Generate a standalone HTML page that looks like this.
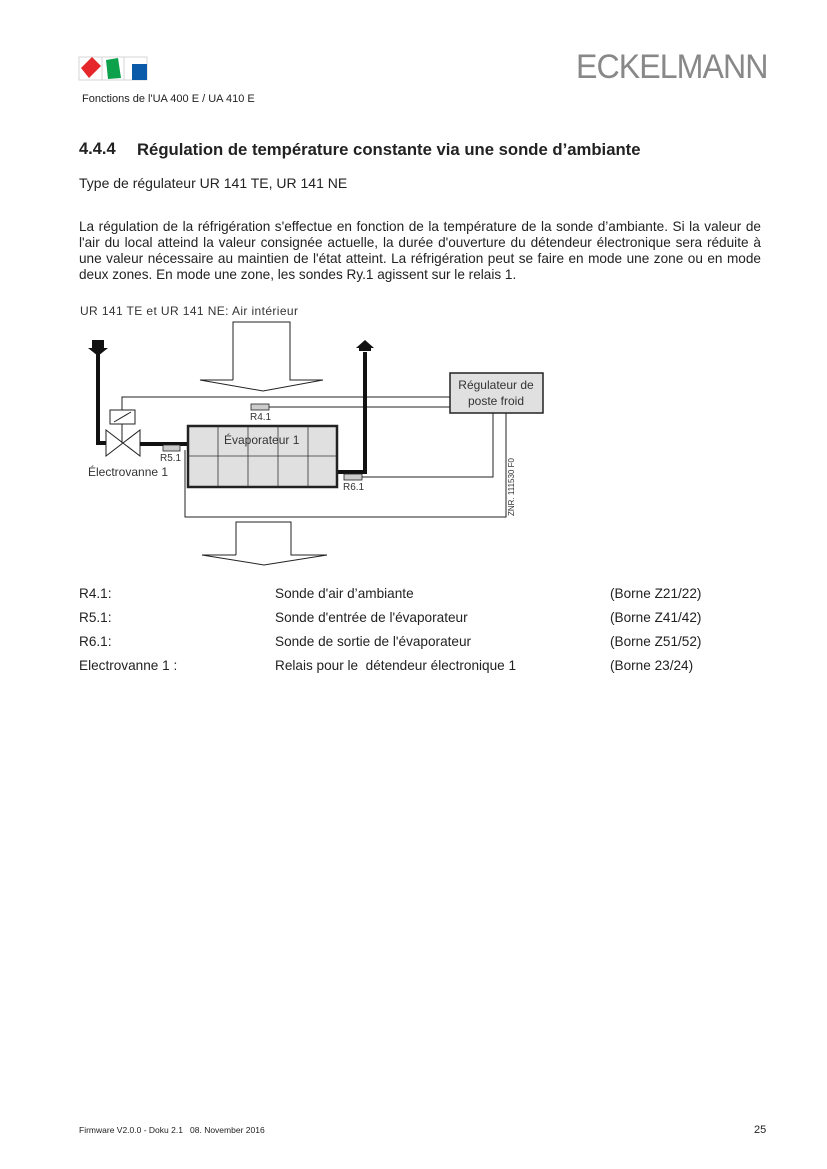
<!DOCTYPE html>
<html><head><meta charset="utf-8"><style>
body{margin:0;background:#fff;}
.p{position:relative;width:827px;height:1169px;overflow:hidden;font-family:"Liberation Sans",Arial,sans-serif;color:#222;}
.a{position:absolute;white-space:nowrap;}
.t{font-size:13.6px;}
.j{position:absolute;left:79px;width:682px;font-size:13.6px;text-align:justify;text-align-last:justify;white-space:nowrap;}
</style></head><body><div class="p">
<svg class="a" style="left:0;top:0" width="827" height="1169">
<rect x="79" y="57" width="68" height="23" fill="none" stroke="#ccc" stroke-width="0.8"/>
<line x1="102" y1="57" x2="102" y2="80" stroke="#ccc" stroke-width="0.8"/>
<line x1="124" y1="57" x2="124" y2="80" stroke="#ccc" stroke-width="0.8"/>
<polygon points="81,68 92,57 101,66 89,78" fill="#e5262a"/>
<polygon points="106,60 118,58 121,78 108,79" fill="#0da14b"/>
<rect x="132" y="64" width="15" height="16" fill="#0b5aaa"/>
<g fill="none" stroke="#222" stroke-width="1">
<polyline points="233,380 233,322 290,322 290,380 323,380 263,391 200,380 233,380"/>
<polyline points="236,555 236,522 291,522 291,555 327,555 264,565 202,555 236,555"/>
<polyline points="122,410 122,397 450,397"/>
<rect x="110" y="410" width="25" height="14"/>
<line x1="114" y1="422" x2="131" y2="412"/>
<polygon points="106,430 106,456 140,430 140,456"/>
<line x1="122" y1="424" x2="122" y2="443"/>
<line x1="269" y1="407" x2="450" y2="407"/>
<polyline points="362,477 493,477 493,413"/>
<polyline points="185,450 185,517 506,517 506,413"/>
</g>
<g fill="none" stroke="#111" stroke-width="4">
<polyline points="98,352 98,443 106,443"/>
<line x1="140" y1="444" x2="188" y2="444"/>
<polyline points="337,472 365,472 365,352"/>
</g>
<polygon points="92,340 104,340 104,348 108,348 98,356 88,348 92,348" fill="#111"/>
<polygon points="371,351 359,351 359,348 356,348 365,340 374,348 371,348" fill="#111"/>
<rect x="188" y="426" width="149" height="61" fill="#e0e0e0" stroke="#222" stroke-width="2.5"/>
<g stroke="#333" stroke-width="0.8">
<line x1="218" y1="426" x2="218" y2="487"/><line x1="248" y1="426" x2="248" y2="487"/>
<line x1="278" y1="426" x2="278" y2="487"/><line x1="308" y1="426" x2="308" y2="487"/>
<line x1="188" y1="456" x2="337" y2="456"/></g>
<rect x="450" y="373" width="93" height="40" fill="#e0e0e0" stroke="#222" stroke-width="1.5"/>
<g fill="#ccc" stroke="#222" stroke-width="0.8">
<rect x="251" y="404" width="18" height="6"/><rect x="163" y="445" width="17" height="6"/><rect x="344" y="474" width="18" height="6"/></g>
<g font-family="Liberation Sans,Arial,sans-serif" fill="#333">
<text x="224" y="444" font-size="12">Évaporateur 1</text>
<text x="496" y="389" font-size="12" text-anchor="middle">Régulateur de</text>
<text x="496" y="405" font-size="12" text-anchor="middle">poste froid</text>
<text x="250" y="420" font-size="10">R4.1</text>
<text x="160" y="461" font-size="10">R5.1</text>
<text x="343" y="490" font-size="10">R6.1</text>
<text x="88" y="476" font-size="12">Électrovanne 1</text>
<text x="80" y="315" font-size="12" textLength="218">UR 141 TE et UR 141 NE:  Air intérieur</text>
<text transform="translate(514,516) rotate(-90)" font-size="8">ZNR. 111530 F0</text>
</g>
</svg>
<div class="a" style="left:576px;top:48px;font-size:34px;color:#888;letter-spacing:-1px;transform:scaleX(0.945);transform-origin:left">ECKELMANN</div>
<div class="a" style="left:82px;top:93px;font-size:11px">Fonctions de l'UA 400 E / UA 410 E</div>
<div class="a" style="left:79px;top:140px;font-size:16.5px;font-weight:bold">4.4.4</div>
<div class="a" style="left:137px;top:140px;font-size:16.7px;font-weight:bold">Régulation de température constante via une sonde d’ambiante</div>
<div class="a t" style="left:79px;top:175px;font-size:14px">Type de régulateur UR 141 TE, UR 141 NE</div>
<div class="j" style="top:219px">La régulation de la réfrigération s'effectue en fonction de la température de la sonde d’ambiante. Si la valeur de</div>
<div class="j" style="top:235px">l'air du local atteind la valeur consignée actuelle, la durée d'ouverture du détendeur électronique sera réduite à</div>
<div class="j" style="top:251px">une valeur nécessaire au maintien de l'état atteint. La réfrigération peut se faire en mode une zone ou en mode</div>
<div class="a t" style="left:79px;top:267px">deux zones. En mode une zone, les sondes Ry.1 agissent sur le relais 1.</div>
<div class="a t" style="left:79px;top:586px">R4.1:</div><div class="a t" style="left:275px;top:586px">Sonde d'air d’ambiante</div><div class="a t" style="left:610px;top:586px">(Borne Z21/22)</div>
<div class="a t" style="left:79px;top:610px">R5.1:</div><div class="a t" style="left:275px;top:610px">Sonde d'entrée de l'évaporateur</div><div class="a t" style="left:610px;top:610px">(Borne Z41/42)</div>
<div class="a t" style="left:79px;top:634px">R6.1:</div><div class="a t" style="left:275px;top:634px">Sonde de sortie de l'évaporateur</div><div class="a t" style="left:610px;top:634px">(Borne Z51/52)</div>
<div class="a t" style="left:79px;top:658px">Electrovanne 1 :</div><div class="a t" style="left:275px;top:658px">Relais pour le&nbsp; détendeur électronique 1</div><div class="a t" style="left:610px;top:658px">(Borne 23/24)</div>
<div class="a" style="left:79px;top:1125px;font-size:8.5px">Firmware V2.0.0 - Doku 2.1&nbsp;&nbsp; 08. November 2016</div>
<div class="a" style="left:754px;top:1124px;font-size:11px">25</div>
</div></body></html>
